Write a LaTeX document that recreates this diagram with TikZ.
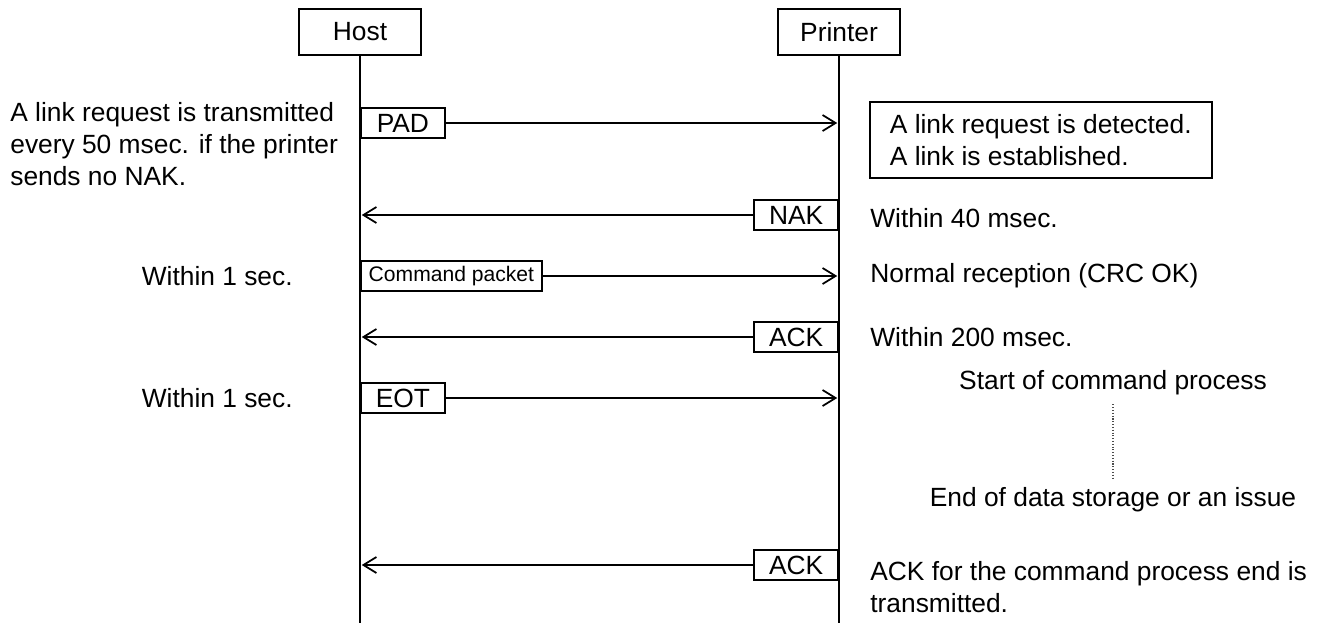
\documentclass[tikz,border=0pt]{standalone}
\usepackage{fontspec}
\setmainfont{Liberation Sans}
\usetikzlibrary{arrows.meta}
\tikzset{
  lifebox/.style={draw, line width=1pt, minimum width=2.44cm, minimum height=0.92cm, inner sep=0pt},
  msgbox/.style={draw, line width=1pt, minimum width=1.68cm, minimum height=0.6cm, inner sep=0pt},
  msgline/.style={line width=1pt, -{Straight Barb[length=2.6mm, width=3.2mm, line width=1pt]}, shorten >=1pt},
  notetext/.style={align=left, inner sep=0pt},
}
\begin{document}
\begin{tikzpicture}[x=0.02cm, y=-0.02cm]
\useasboundingbox (0,0) rectangle (1329,626);
{\fontsize{15}{18.2}\selectfont

% Marking Host and Printer boxes
\node[lifebox] (host) at (360,32) {Host};
\node[lifebox] (printer) at (839,32) {Printer};
\coordinate (hostEnd) at (360,623);
\coordinate (printerEnd) at (839,623);

% Drawing lifelines
\draw[line width=1pt] (host.south) -- (hostEnd);
\draw[line width=1pt] (printer.south) -- (printerEnd);

% Drawing PAD
\node[msgbox, anchor=west] (pad) at (360,123) {PAD};
\draw[msgline] (pad.east) -- (pad.east -| printer);
\node[notetext, anchor=west] (retry) at (10,144) {A link request is transmitted\\every 50 msec. if the printer\\sends no NAK.};
\node[draw, line width=1pt, anchor=north west, align=left, minimum height=1.52cm, inner xsep=0.4cm] (linkNote) at (869,101) {A link request is detected.\\A link is established.};

% Drawing NAK
\node[msgbox, anchor=east] (nak) at (839,215) {NAK};
\draw[msgline] (nak.west) -- (nak.west -| host);
\node[anchor=west, inner sep=0pt] (wait40) at (870,218) {Within 40 msec.};

% Drawing Command packet
\node[msgbox, anchor=west, minimum width=3.62cm, font=\fontsize{12}{14}\selectfont] (cmd) at (360,276) {Command packet};
\draw[msgline] (cmd.east) -- (cmd.east -| printer);
\node[anchor=east, inner sep=0pt] (waitCmd) at (293,276) {Within 1 sec.};
\node[anchor=west, inner sep=0pt] (crcOk) at (870,276) {Normal reception (CRC OK)};

% Drawing ACK
\node[msgbox, anchor=east] (ack) at (839,337) {ACK};
\draw[msgline] (ack.west) -- (ack.west -| host);
\node[anchor=west, inner sep=0pt] (wait200) at (870,337) {Within 200 msec.};

% Drawing EOT
\node[msgbox, anchor=west] (eot) at (360,398) {EOT};
\draw[msgline] (eot.east) -- (eot.east -| printer);
\node[anchor=east, inner sep=0pt] (waitEot) at (293,398) {Within 1 sec.};

% Marking command process
\node (procStart) at (1113,383) {Start of command process};
\node (procEnd) at (1113,500) {End of data storage or an issue};
\draw[densely dotted, line width=0.6pt, black!70] (procStart.south) -- (procEnd.north);

% Drawing last ACK
\node[msgbox, anchor=east] (ackEnd) at (839,565) {ACK};
\draw[msgline] (ackEnd.west) -- (ackEnd.west -| host);
\node[notetext, anchor=west] (ackNote) at (870,587) {ACK for the command process end is\\transmitted.};
}
\end{tikzpicture}
\end{document}
